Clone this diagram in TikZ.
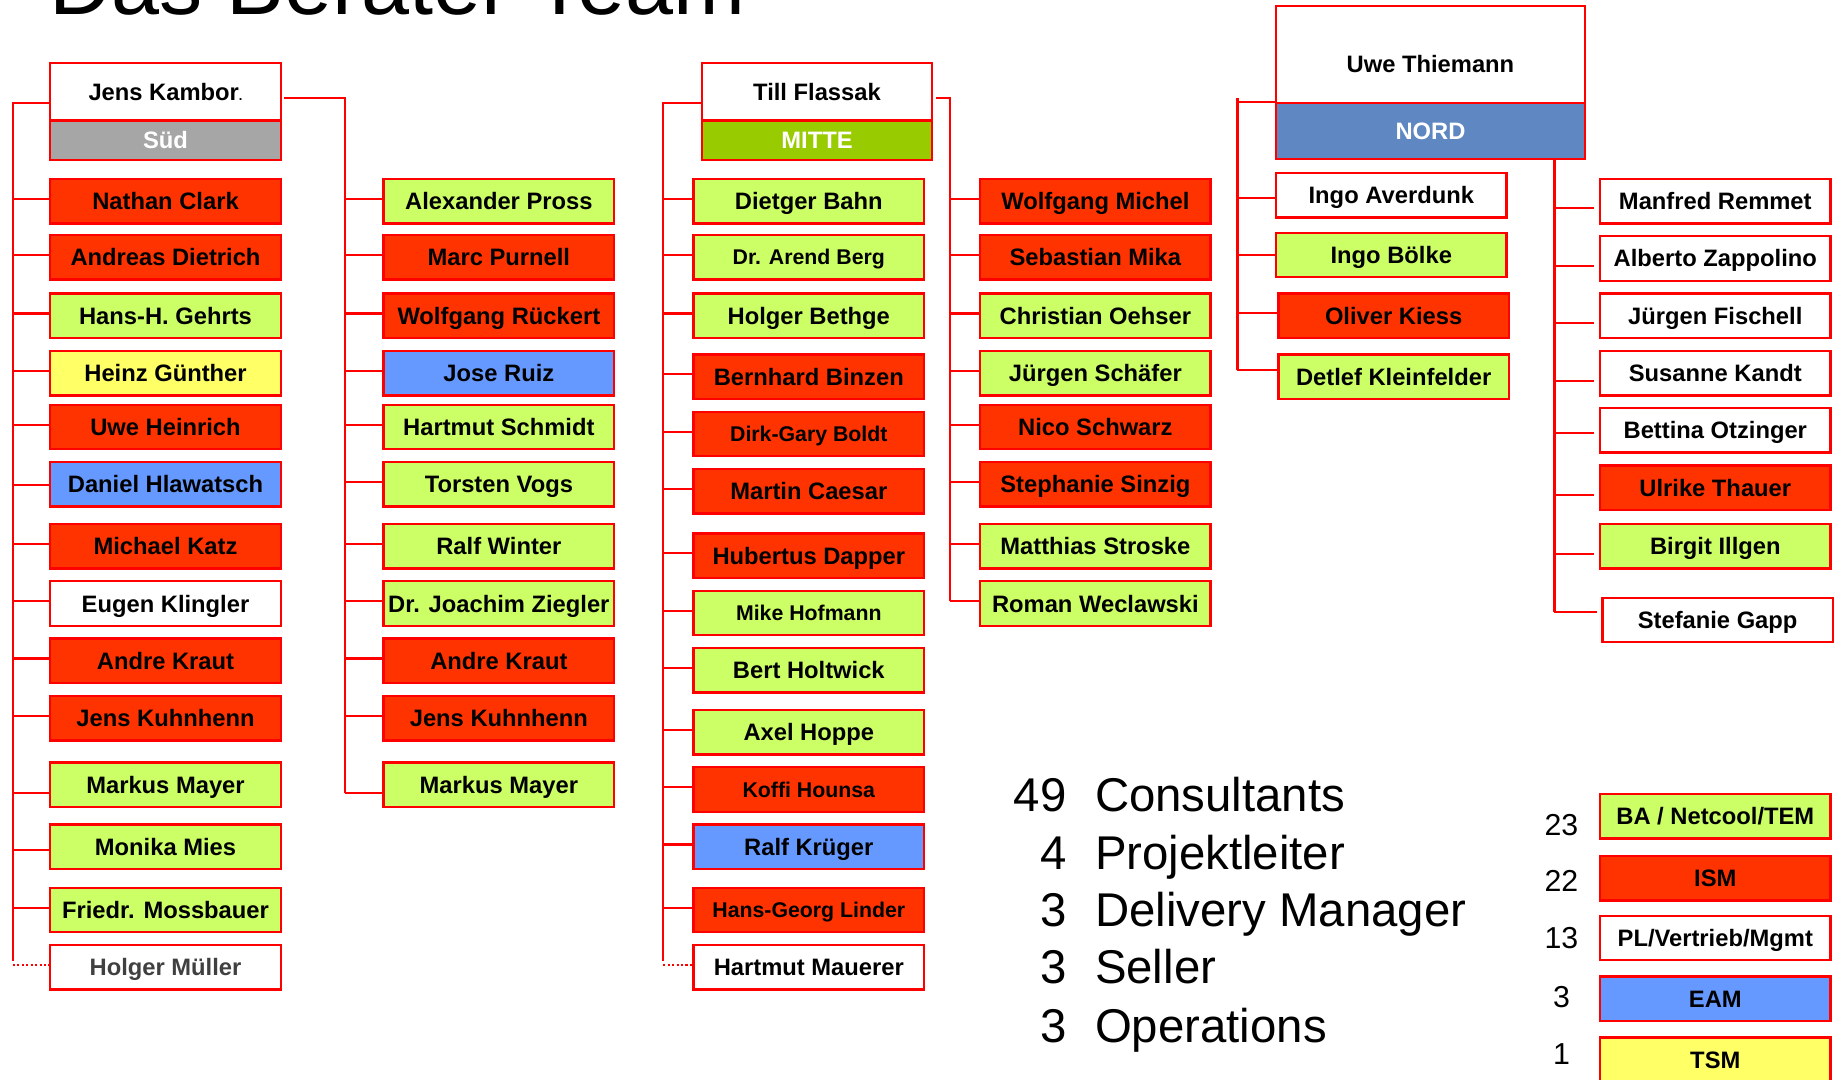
\documentclass[tikz,border=0pt]{standalone}
\usepackage{fontspec}
\setmainfont{Liberation Sans}
\usetikzlibrary{calc}
\definecolor{bord}{HTML}{FF0000}
\definecolor{cRed}{HTML}{FF3300}
\definecolor{cGreen}{HTML}{CCFF66}
\definecolor{cYellow}{HTML}{FFFF66}
\definecolor{cBlue}{HTML}{6699FF}
\definecolor{cSud}{HTML}{A6A6A6}
\definecolor{cMitte}{HTML}{99CC00}
\definecolor{cNord}{HTML}{5F87C1}
\definecolor{cGrayText}{HTML}{404040}
\newcommand\nmfont{\bfseries\fontsize{20.3}{24}\selectfont}
\newcommand\smfont{\bfseries\fontsize{18.2}{22}\selectfont}
\newcommand\sumfont{\fontsize{40.5}{48}\selectfont}
\newcommand\legnumfont{\fontsize{25.9}{30}\selectfont}
\begin{document}
\begin{tikzpicture}[x=1pt,y=-1pt,
  pbox/.style={draw=bord, line width=2pt, minimum width=197pt, minimum height=38pt,
    inner sep=0pt, outer sep=0pt, anchor=north west, font=\nmfont,
    text height=14.5pt, text depth=0pt},
  sm/.style={font=\smfont, text height=13pt},
  fr/.style={pbox, fill=cRed},
  fg/.style={pbox, fill=cGreen},
  fy/.style={pbox, fill=cYellow},
  fb/.style={pbox, fill=cBlue},
  fw/.style={pbox, fill=white},
  conn/.style={draw=bord, line width=1.8pt},
  dconn/.style={conn, dotted},
  sumtxt/.style={inner sep=0pt, font=\sumfont},
  legnum/.style={inner sep=0pt, anchor=base, font=\legnumfont}
]
\useasboundingbox (0,0) rectangle (1568,923);
\clip (0,0) rectangle (1568,923);
\fill[white] (0,0) rectangle (1568,923);

% title (cut off at the top, as in the reference)
\node[anchor=base west, inner sep=0pt, font={\fontsize{73.8}{80}\selectfont}] (title) at (42,12) {Das Berater Team};

% ---------------- SUED ----------------
\node[fw, minimum height=49pt] (jk) at (43,54) {Jens Kambor{\fontsize{11}{13}\selectfont .}};
\node[pbox, fill=cSud, minimum height=34pt, text=white] (sud) at (43,103) {Süd};

\node[fr] (s1) at (43,153) {Nathan Clark};
\node[fr] (s2) at (43,201) {Andreas Dietrich};
\node[fg] (s3) at (43,251) {Hans-H. Gehrts};
\node[fy] (s4) at (43,300) {Heinz Günther};
\node[fr] (s5) at (43,346) {Uwe Heinrich};
\node[fb] (s6) at (43,395) {Daniel Hlawatsch};
\node[fr] (s7) at (43,448) {Michael Katz};
\node[fw] (s8) at (43,497) {Eugen Klingler};
\node[fr] (s9) at (43,546) {Andre Kraut};
\node[fr] (s10) at (43,595) {Jens Kuhnhenn};
\node[fg] (s11) at (43,652) {Markus Mayer};
\node[fg] (s12) at (43,705) {Monika Mies};
\node[fg] (s13) at (43,759) {Friedr. Mossbauer};
\node[fw, text=cGrayText] (s14) at (43,808) {Holger Müller};

\node[fg] (r1) at (328,153) {Alexander Pross};
\node[fr] (r2) at (328,201) {Marc Purnell};
\node[fr] (r3) at (328,251) {Wolfgang Rückert};
\node[fb] (r4) at (328,300) {Jose Ruiz};
\node[fg] (r5) at (328,346) {Hartmut Schmidt};
\node[fg] (r6) at (328,395) {Torsten Vogs};
\node[fg] (r7) at (328,448) {Ralf Winter};
\node[fg] (r8) at (328,497) {Dr. Joachim Ziegler};
\node[fr] (r9) at (328,546) {Andre Kraut};
\node[fr] (r10) at (328,595) {Jens Kuhnhenn};
\node[fg] (r11) at (328,652) {Markus Mayer};

\coordinate (sL) at (11,0);
\coordinate (sR) at (295,0);
\draw[conn] ($(jk.west)+(0,9.5)$) -| ($(sL |- s14.west)+(0,-5)$);
\draw[dconn] ($(sL |- s14.west)+(0,-2)$) -- ($(s14.west)+(0,-2)$);
\foreach \n/\s in {s1/-2,s2/-2,s3/-2,s4/-2,s5/-2,s6/1,s7/-2,s8/-2,s9/-2,s10/-2,s11/7,s12/3,s13/-2}
  \draw[conn] ($(sL |- \n.west)+(0,\s)$) -- ($(\n.west)+(0,\s)$);
\draw[conn] ($(jk.east)+(3,5.5)$) -| ($(sR |- r11.west)+(0,7)$);
\foreach \n/\s in {r1/-2,r2/-2,r3/-2,r4/-2,r5/-2,r6/-2,r7/-2,r8/-2,r9/-2,r10/-2,r11/7}
  \draw[conn] ($(sR |- \n.west)+(0,\s)$) -- ($(\n.west)+(0,\s)$);

% ---------------- MITTE ----------------
\node[fw, minimum height=49pt] (tf) at (600,54) {Till Flassak};
\node[pbox, fill=cMitte, minimum height=34pt, text=white] (mitte) at (600,103) {MITTE};

\node[fg] (m1) at (593,153) {Dietger Bahn};
\node[fg, sm] (m2) at (593,201) {Dr. Arend Berg};
\node[fg] (m3) at (593,251) {Holger Bethge};
\node[fr] (m4) at (593,303) {Bernhard Binzen};
\node[fr, sm] (m5) at (593,352) {Dirk-Gary Boldt};
\node[fr] (m6) at (593,401) {Martin Caesar};
\node[fr] (m7) at (593,456) {Hubertus Dapper};
\node[fg, sm] (m8) at (593,505) {Mike Hofmann};
\node[fg] (m9) at (593,554) {Bert Holtwick};
\node[fg] (m10) at (593,607) {Axel Hoppe};
\node[fr, sm] (m11) at (593,656) {Koffi Hounsa};
\node[fb] (m12) at (593,705) {Ralf Krüger};
\node[fr, sm] (m13) at (593,759) {Hans-Georg Linder};
\node[fw] (m14) at (593,808) {Hartmut Mauerer};

\node[fr] (w1) at (838,153) {Wolfgang Michel};
\node[fr] (w2) at (838,201) {Sebastian Mika};
\node[fg] (w3) at (838,251) {Christian Oehser};
\node[fg] (w4) at (838,300) {Jürgen Schäfer};
\node[fr] (w5) at (838,346) {Nico Schwarz};
\node[fr] (w6) at (838,395) {Stephanie Sinzig};
\node[fg] (w7) at (838,448) {Matthias Stroske};
\node[fg] (w8) at (838,497) {Roman Weclawski};

\coordinate (mL) at (567,0);
\coordinate (mR) at (812,0);
\draw[conn] ($(tf.west)+(0,9.5)$) -| ($(mL |- m14.west)+(0,-5)$);
\draw[dconn] ($(mL |- m14.west)+(0,-2)$) -- ($(m14.west)+(0,-2)$);
\foreach \n in {m1,m2,m3,m4,m5,m6,m7,m8,m9,m10,m11,m12,m13}
  \draw[conn] ($(mL |- \n.west)+(0,-2)$) -- ($(\n.west)+(0,-2)$);
\draw[conn] ($(tf.east)+(3,5.5)$) -| ($(mR |- w8.west)+(0,-2)$);
\foreach \n in {w1,w2,w3,w4,w5,w6,w7,w8}
  \draw[conn] ($(mR |- \n.west)+(0,-2)$) -- ($(\n.west)+(0,-2)$);

% ---------------- NORD ----------------
\node[fw, minimum width=264pt, minimum height=83pt] (ut) at (1091,5) {\raisebox{-8.5pt}[14.5pt][0pt]{Uwe Thiemann}};
\node[pbox, fill=cNord, minimum width=264pt, minimum height=48pt, text=white] (nord) at (1091,88) {NORD};

\node[fw] (n1) at (1091,148) {Ingo Averdunk};
\node[fg] (n2) at (1091,199) {Ingo Bölke};
\node[fr] (n3) at (1093,251) {Oliver Kiess};
\node[fg] (n4) at (1093,303) {Detlef Kleinfelder};

\node[fw] (e1) at (1368,153) {Manfred Remmet};
\node[fw] (e2) at (1368,202) {Alberto Zappolino};
\node[fw] (e3) at (1368,251) {Jürgen Fischell};
\node[fw] (e4) at (1368,300) {Susanne Kandt};
\node[fw] (e5) at (1368,349) {Bettina Otzinger};
\node[fr] (e6) at (1368,398) {Ulrike Thauer};
\node[fg] (e7) at (1368,448) {Birgit Illgen};
\node[fw] (e8) at (1370,511) {Stefanie Gapp};

\coordinate (nL) at (1058,0);
\coordinate (nR) at (1329,0);
\draw[conn] ($(ut.west)+(0,40.5)$) -- ($(nL |- ut.west)+(0,40.5)$);
\draw[conn] ($(nL |- ut.west)+(0,37.5)$) -- ($(nL |- n4.west)+(0,-5.5)$);
\foreach \n/\s in {n1/2,n2/0,n3/-2.5,n4/-5.5}
  \draw[conn] ($(nL |- \n.west)+(0,\s)$) -- ($(\n.west)+(0,\s)$);
\draw[conn] (nR |- nord.south) -- ($(nR |- e8.west)+(0,-7)$);
\foreach \n/\s in {e1/6,e2/6.5,e3/6,e4/6.5,e5/2.5,e6/6,e7/7,e8/-7}
  \draw[conn] ($(nR |- \n.west)+(0,\s)$) -- ($(\n.west)+(-5,\s)$);

% ---------------- Summary ----------------
\node[sumtxt, anchor=base east] (k1) at (912,694) {49};
\node[sumtxt, anchor=base west] (t1) at (936,694) {Consultants};
\node[sumtxt, anchor=base east] (k2) at (912,743) {4};
\node[sumtxt, anchor=base west] (t2) at (936,743) {Projektleiter};
\node[sumtxt, anchor=base east] (k3) at (912,792) {3};
\node[sumtxt, anchor=base west] (t3) at (936,792) {Delivery Manager};
\node[sumtxt, anchor=base east] (k4) at (912,841) {3};
\node[sumtxt, anchor=base west] (t4) at (936,841) {Seller};
\node[sumtxt, anchor=base east] (k5) at (912,891) {3};
\node[sumtxt, anchor=base west] (t5) at (936,891) {Operations};

% ---------------- Legend ----------------
\node[fg] (lg1) at (1368,679) {BA / Netcool/TEM};
\node[fr] (lg2) at (1368,732) {ISM};
\node[fw] (lg3) at (1368,783) {PL/Vertrieb/Mgmt};
\node[fb] (lg4) at (1368,835) {EAM};
\node[fy] (lg5) at (1368,887) {TSM};
\node[legnum] (ln1) at (1335,714) {23};
\node[legnum] (ln2) at (1335,762) {22};
\node[legnum] (ln3) at (1335,811) {13};
\node[legnum] (ln4) at (1335,861) {3};
\node[legnum] (ln5) at (1335,910) {1};
\end{tikzpicture}
\end{document}
